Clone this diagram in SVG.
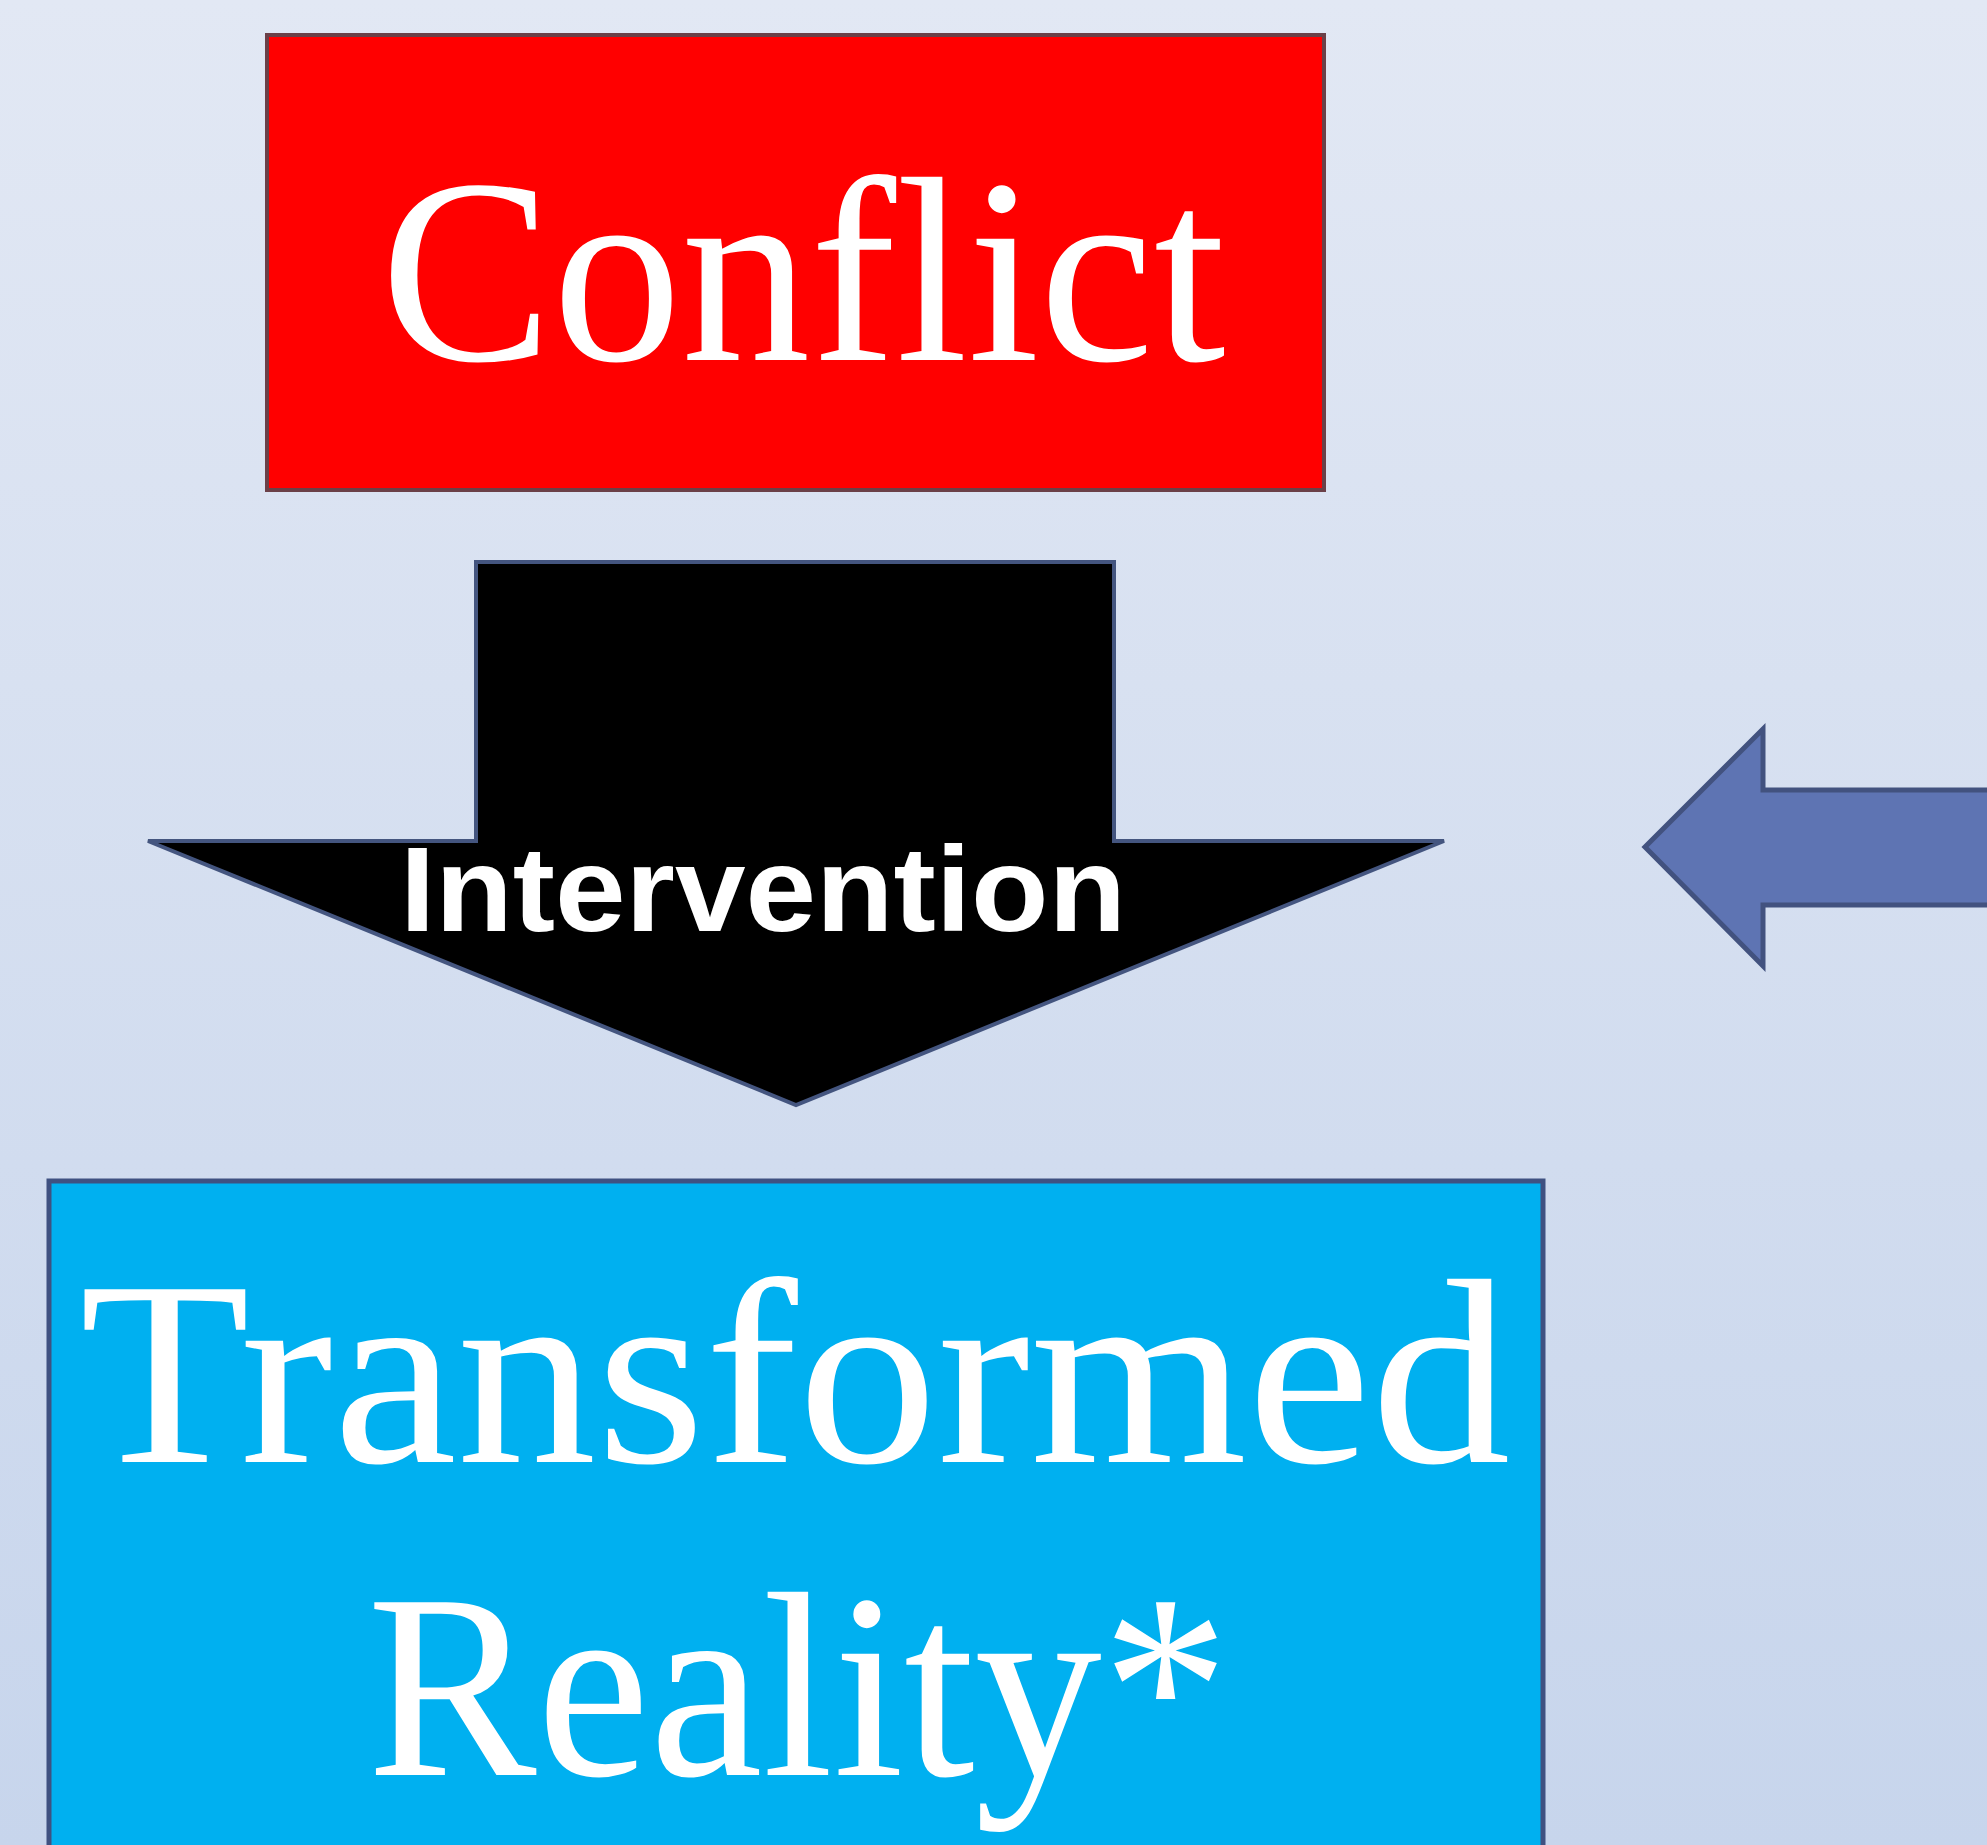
<svg xmlns="http://www.w3.org/2000/svg" width="1987" height="1845" viewBox="0 0 1987 1845">
<defs>
<linearGradient id="bg" x1="0" y1="0" x2="0" y2="1">
<stop offset="0" stop-color="#e2e8f4"/>
<stop offset="1" stop-color="#c7d5ec"/>
</linearGradient>
<style>
.big{font-family:"Liberation Serif","DejaVu Serif",serif;font-size:264px;fill:#ffffff;text-anchor:middle}
.lbl{font-family:"Liberation Sans","Open Sans",sans-serif;font-weight:bold;font-size:120px;fill:#ffffff;text-anchor:middle}
</style>
</defs>
<rect x="0" y="0" width="1987" height="1845" fill="url(#bg)"/>
<g id="conflict">
<rect x="267" y="35" width="1057" height="455" fill="#ff0000" stroke="#6b4048" stroke-width="4"/>
<text class="big" x="803" y="360" textLength="845" lengthAdjust="spacingAndGlyphs">Conflict</text>
</g>
<g id="connectors">
<g id="intervention">
<polygon points="476,562 1114,562 1114,841 1444,841 796,1105 148,841 476,841" fill="#000000" stroke="#44557f" stroke-width="4"/>
<text class="lbl" x="763" y="931" textLength="726" lengthAdjust="spacingAndGlyphs">Intervention</text>
</g>
<g id="side-arrow">
<polygon points="1992,790 1763,790 1763,729 1645,847 1763,966 1763,905 1992,905" fill="#5e74b3" stroke="#42527f" stroke-width="5"/>
</g>
</g>
<g id="transformed">
<rect x="49" y="1181" width="1494" height="700" fill="#00b0f0" stroke="#3f5181" stroke-width="5"/>
<text class="big" x="795" y="1462" textLength="1431" lengthAdjust="spacingAndGlyphs">Transformed</text>
<text class="big" x="798" y="1775" textLength="862" lengthAdjust="spacingAndGlyphs">Reality*</text>
</g>
</svg>
